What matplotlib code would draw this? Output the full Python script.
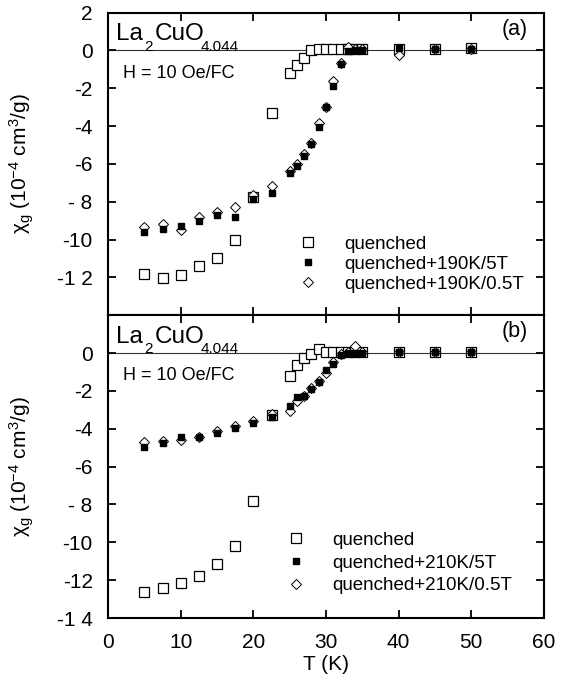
import numpy as np
import matplotlib.pyplot as plt

plt.rcParams['font.family'] = ['Liberation Sans', 'DejaVu Sans']
plt.rcParams['mathtext.fontset'] = 'custom'
plt.rcParams['mathtext.rm'] = 'Liberation Sans'
plt.rcParams['mathtext.it'] = 'Liberation Sans:italic'

# temperatures (K), shared by all series
T = [5, 7.5, 10, 12.5, 15, 17.5, 20, 22.5, 25, 26, 27, 28, 29, 30, 31, 32, 33, 34, 35, 40, 45, 50]

# panel (a)
a_quenched = [-11.8, -12.05, -11.85, -11.4, -11.0, -10.0, -7.75, -3.3, -1.2, -0.75, -0.4, 0.0,
              0.05, 0.05, 0.05, 0.05, 0.05, 0.05, 0.05, 0.05, 0.05, 0.1]
a_5T = [-9.6, -9.45, -9.28, -9.0, -8.7, -8.8, -7.88, -7.55, -6.5, -6.1, -5.57, -4.95,
        -4.03, -3.0, -1.9, -0.72, -0.05, 0.0, 0.0, 0.1, 0.05, 0.05]
a_05T = [-9.33, -9.2, -9.47, -8.8, -8.53, -8.27, -7.65, -7.15, -6.36, -6.0, -5.48, -4.9,
         -3.82, -2.97, -1.64, -0.67, 0.2, 0.05, 0.05, -0.25, 0.05, 0.05]

# panel (b)
b_quenched = [-12.6, -12.43, -12.13, -11.76, -11.12, -10.2, -7.81, -3.25, -1.22, -0.62, -0.27, -0.04,
              0.23, 0.05, 0.05, 0.05, 0.05, 0.05, 0.05, 0.05, 0.05, 0.05]
b_5T = [-4.95, -4.75, -4.42, -4.45, -4.24, -3.98, -3.71, -3.36, -2.79, -2.33, -2.26, -1.89,
        -1.54, -0.87, -0.57, -0.12, 0.0, 0.0, 0.0, 0.05, 0.05, 0.05]
b_05T = [-4.68, -4.63, -4.6, -4.42, -4.14, -3.84, -3.6, -3.22, -3.04, -2.55, -2.25, -1.84,
         -1.45, -1.06, -0.48, -0.04, 0.05, 0.35, 0.05, 0.05, 0.05, 0.05]

labels_a = ['quenched', 'quenched+190K/5T', 'quenched+190K/0.5T']
labels_b = ['quenched', 'quenched+210K/5T', 'quenched+210K/0.5T']

yticks_a = [2, 0, -2, -4, -6, -8, -10, -12]
ylabels_a = ['2', '0', '-2', '-4', '-6', '- 8', '-10', '-1 2']
yticks_b = [0, -2, -4, -6, -8, -10, -12, -14]
ylabels_b = ['0', '-2', '-4', '-6', '- 8', '-10', '-12', '-1 4']
xticks = [0, 10, 20, 30, 40, 50, 60]

W, H = 572, 675
fig = plt.figure(figsize=(W / 100, H / 100), dpi=100)
left, right, top, bottom = 108, 544, 12.5, 618
mid = (top + bottom) / 2
axa = fig.add_axes([left / W, 1 - mid / H, (right - left) / W, (mid - top) / H])
axb = fig.add_axes([left / W, 1 - bottom / H, (right - left) / W, (bottom - mid) / H])


def panel(ax, q, f5, f05, labels, letter, yt, yl, leg_xy, leg_sp):
    ax.axhline(0, color='#333333', lw=0.8, zorder=1)
    h1, = ax.plot(T, q, 's', ms=7.5, mfc='white', mec='black', mew=0.9, zorder=3, label=labels[0])
    h3, = ax.plot(T, f05, 'D', ms=5.5, mfc='white', mec='black', mew=0.7, zorder=4, label=labels[2])
    h2, = ax.plot(T, f5, 's', ms=5, mfc='black', mec='black', zorder=5, label=labels[1])
    ax.set_xlim(0, 60)
    ax.set_ylim(-14, 2)
    ax.set_xticks(xticks)
    ax.set_yticks(yt)
    ax.set_yticklabels(yl)
    ax.tick_params(direction='in', top=True, right=True, length=6, width=1.3,
                   labelsize=15, pad=11)
    for s in ax.spines.values():
        s.set_linewidth(1.5)
    ax.legend([h1, h2, h3], labels, loc='upper left', bbox_to_anchor=leg_xy,
              frameon=False, fontsize=13.5, numpoints=1, handlelength=1.0,
              handletextpad=1.4, labelspacing=leg_sp, borderpad=0, borderaxespad=0)
    # formula
    ax.text(0.018, 0.909, 'La', transform=ax.transAxes, fontsize=17.5, va='baseline')
    ax.text(0.084, 0.874, '2', transform=ax.transAxes, fontsize=11, va='baseline')
    ax.text(0.107, 0.909, 'CuO', transform=ax.transAxes, fontsize=17.5, va='baseline')
    ax.text(0.213, 0.874, '4.044', transform=ax.transAxes, fontsize=11, va='baseline')
    ax.text(0.035, 0.80, 'H = 10 Oe/FC', transform=ax.transAxes, fontsize=13, va='center')
    ax.text(0.962, 0.945, '(' + letter + ')', transform=ax.transAxes, fontsize=15.5,
            ha='right', va='center')
    ax.set_ylabel('χ$_\\mathrm{g}$ (10$^{-4}$ cm$^3$/g)', fontsize=15)


panel(axa, a_quenched, a_5T, a_05T, labels_a, 'a', yticks_a, ylabels_a, (0.438, 0.262), 0.15)
panel(axb, b_quenched, b_5T, b_05T, labels_b, 'b', yticks_b, ylabels_b, (0.41, 0.285), 0.3)
axa.tick_params(labelbottom=False)
axb.set_xlabel('T (K)', fontsize=15, labelpad=2)
for ax in (axa, axb):
    ax.yaxis.set_label_coords(-0.165, 0.5)

fig.savefig('out.png', dpi=100)
